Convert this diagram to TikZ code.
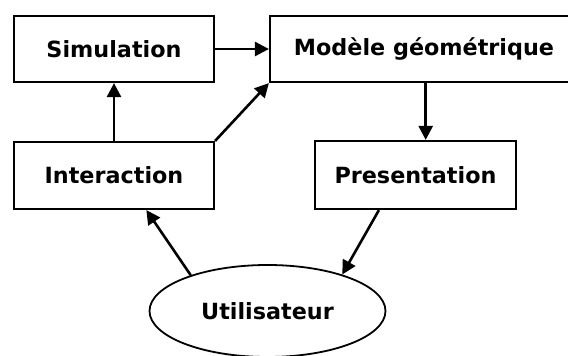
\documentclass[tikz,border=0pt]{standalone}
\usepackage{fontspec}
\setmainfont{DejaVu Sans}
\usetikzlibrary{arrows.meta,calc,shapes.geometric}
\begin{document}
\begin{tikzpicture}[x=1pt,y=-1pt,
  every node/.style={font=\fontsize{22.3}{26}\selectfont\bfseries},
  box/.style={draw,line width=2.2pt,inner sep=0pt,minimum height=66pt},
  conn/.style={line width=2.6pt,-{Triangle[length=14pt,width=14pt]}}]
\useasboundingbox (0,0) rectangle (568,356);
\node[box,minimum width=200pt] (sim) at (114,49) {Simulation};
\node[box,minimum width=308pt] (mod) at (424,49) {Modèle géométrique};
\node[box,minimum width=200pt,minimum height=67pt] (int) at (114,175.5) {Interaction};
\node[box,minimum width=201pt,minimum height=68pt] (pres) at (415.5,175) {Presentation};
\node[draw,ellipse,line width=1.8pt,minimum width=236pt,minimum height=92pt,inner sep=0pt] (ut) at (267.5,311) {Utilisateur};
\draw[conn] (sim.east) -- (sim.east -| mod.west);
\draw[conn] (int.north) -- (sim.south);
\draw[conn] (int.north east) -- (mod.south west);
\draw[conn] ($(mod.south)+(1.7,0)$) coordinate (ms) -- (ms |- pres.north);
\draw[conn] (ut.155.7) -- ($(int.south west)!0.66!(int.south east)$);
\draw[conn] ($(pres.south west)!0.32!(pres.south east)$) -- (ut.26.4);
\end{tikzpicture}
\end{document}
